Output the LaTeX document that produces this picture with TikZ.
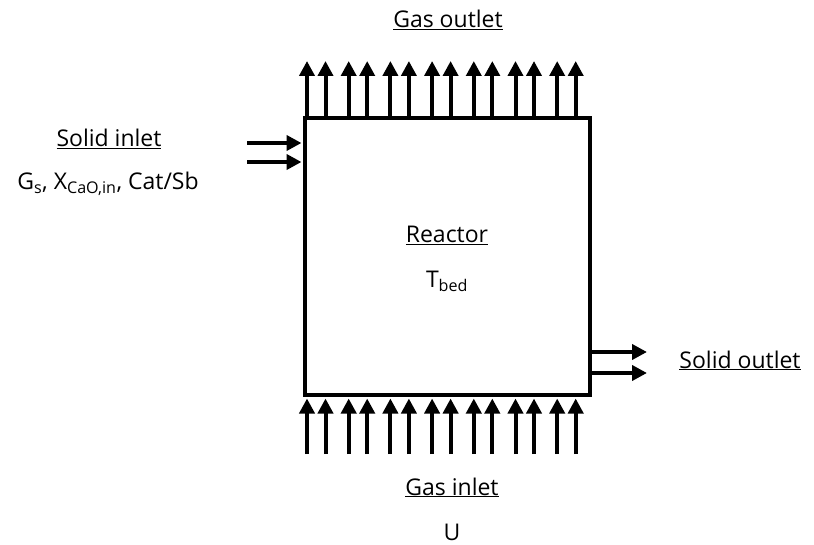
\documentclass[tikz,border=0pt]{standalone}
\usepackage{fontspec}
\setmainfont{Open Sans}
\usetikzlibrary{calc,arrows.meta}
\newcommand{\lbl}{\fontsize{23}{28}\selectfont}

\begin{document}
\begin{tikzpicture}[x=1pt,y=-1pt,
  flow/.style={line width=4pt,-{Triangle[length=15pt,width=15pt]}},
  txt/.style={anchor=base,inner sep=0pt,font=\lbl}]
\useasboundingbox (0,0) rectangle (814,545);
\node[draw,line width=4pt,minimum width=285pt,minimum height=277pt,inner sep=0pt] (reactor) at (447.5,256.5) {};
% gas through the bed
\foreach \k in {0,...,6}{
  \foreach \d in {0,18.5}{
    \draw[flow] ($(reactor.north west)+(4+41.7*\k+\d,0)$) -- ++(0,-55);
    \draw[flow] ($(reactor.south west)+(4+41.7*\k+\d,57)$) -- ++(0,-55.5);
  }
}
% solids in and out
\coordinate (si1) at (247,143);\coordinate (si2) at (247,162);
\draw[flow] (si1) -- ($(si1 -| reactor.west)+(-1.5,0)$);
\draw[flow] (si2) -- ($(si2 -| reactor.west)+(-1.5,0)$);
\coordinate (so1) at (647,352);\coordinate (so2) at (647,373);
\draw[flow] (so1 -| reactor.east) -- (so1);
\draw[flow] (so2 -| reactor.east) -- (so2);
\node[txt] (gasout) at (448,28){\underline{Gas outlet}};
\node[txt] (solidin) at (109,147){\underline{Solid inlet}};
\node[txt] (solidvar) at (108,190){G\textsubscript{s}, X\textsubscript{CaO,in}, Cat/Sb};
\node[txt] (rname) at (447,243){\underline{Reactor}};
\node[txt] (tbed) at (447,288){T\textsubscript{bed}};
\node[txt] (solidout) at (740,368){\underline{Solid outlet}};
\node[txt] (gasin) at (452,495){\underline{Gas inlet}};
\node[txt] (uvel) at (452,540){U};
\end{tikzpicture}
\end{document}
